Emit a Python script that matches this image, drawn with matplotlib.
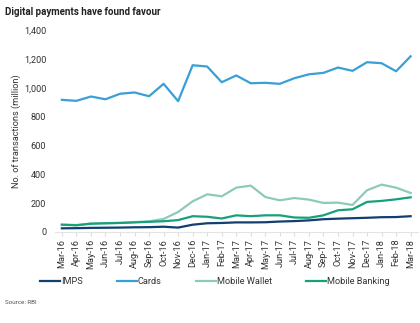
import matplotlib.pyplot as plt
from matplotlib.ticker import FuncFormatter

plt.rcParams["font.family"] = ["Roboto", "DejaVu Sans"]

# monthly transactions (million), Mar-16 .. Mar-18
months = ["Mar-16", "Apr-16", "May-16", "Jun-16", "Jul-16", "Aug-16", "Sep-16",
          "Oct-16", "Nov-16", "Dec-16", "Jan-17", "Feb-17", "Mar-17", "Apr-17",
          "May-17", "Jun-17", "Jul-17", "Aug-17", "Sep-17", "Oct-17", "Nov-17",
          "Dec-17", "Jan-18", "Feb-18", "Mar-18"]

imps = [25, 26, 28, 29, 30, 32, 33, 36, 30, 50, 60, 62, 66, 66, 67, 72, 75, 80,
        88, 92, 95, 98, 102, 103, 109]
cards = [916, 909, 939, 920, 958, 967, 941, 1027, 907, 1156, 1147, 1038, 1085,
         1031, 1034, 1027, 1066, 1093, 1103, 1140, 1117, 1177, 1170, 1114, 1218]
mobile_wallet = [50, 48, 58, 60, 63, 68, 73, 90, 138, 212, 261, 247, 307, 321,
                 242, 219, 235, 224, 201, 203, 187, 289, 328, 307, 270]
mobile_banking = [50, 46, 57, 60, 62, 66, 70, 74, 82, 109, 105, 93, 115, 109,
                  115, 115, 100, 98, 115, 150, 157, 208, 215, 226, 240]

series = [("IMPS", imps, "#123f6e"),
          ("Cards", cards, "#3a9fd6"),
          ("Mobile Wallet", mobile_wallet, "#8ccbbb"),
          ("Mobile Banking", mobile_banking, "#17a07a")]


def main():
    fig = plt.figure(figsize=(4.2, 3.23), dpi=100)
    ax = fig.add_axes([0.130, 0.282, 0.865, 0.625])

    x = list(range(len(months)))
    for name, vals, color in series:
        ax.plot(x, vals, color=color, linewidth=1.6, label=name)

    ax.set_xlim(-0.5, len(months) - 0.5)
    ax.set_ylim(0, 1400)
    ax.set_yticks(range(0, 1401, 200))
    ax.yaxis.set_major_formatter(FuncFormatter(lambda v, p: f"{int(v):,}"))
    ax.set_xticks(x)
    ax.set_xticklabels(months, rotation=90)
    ax.tick_params(axis="y", length=0, pad=6, labelsize=6.6, labelcolor="#333333")
    ax.tick_params(axis="x", length=3, color="#dddddd", pad=2, labelsize=6.6,
                   labelcolor="#333333")
    for s in ["top", "right", "left"]:
        ax.spines[s].set_visible(False)
    ax.spines["bottom"].set_color("#e3e3e3")

    ax.set_ylabel("No. of transactions (million)", fontsize=6.6, color="#333333")
    ax.yaxis.set_label_coords(-0.093, 0.5)

    fig.text(0.012, 0.962, "Digital payments have found favour", fontsize=7,
             fontweight="bold", color="#222222", va="center")
    fig.text(0.012, 0.065, "Source: RBI", fontsize=4.5, color="#555555", va="center")

    fig.legend(loc="center", bbox_to_anchor=(0.511, 0.127), ncol=4, frameon=False,
               fontsize=6.6, handlelength=2.2, handletextpad=0.1, columnspacing=3.7,
               labelcolor="#333333")

    fig.savefig("out.png", dpi=100, facecolor="white")


if __name__ == "__main__":
    main()
